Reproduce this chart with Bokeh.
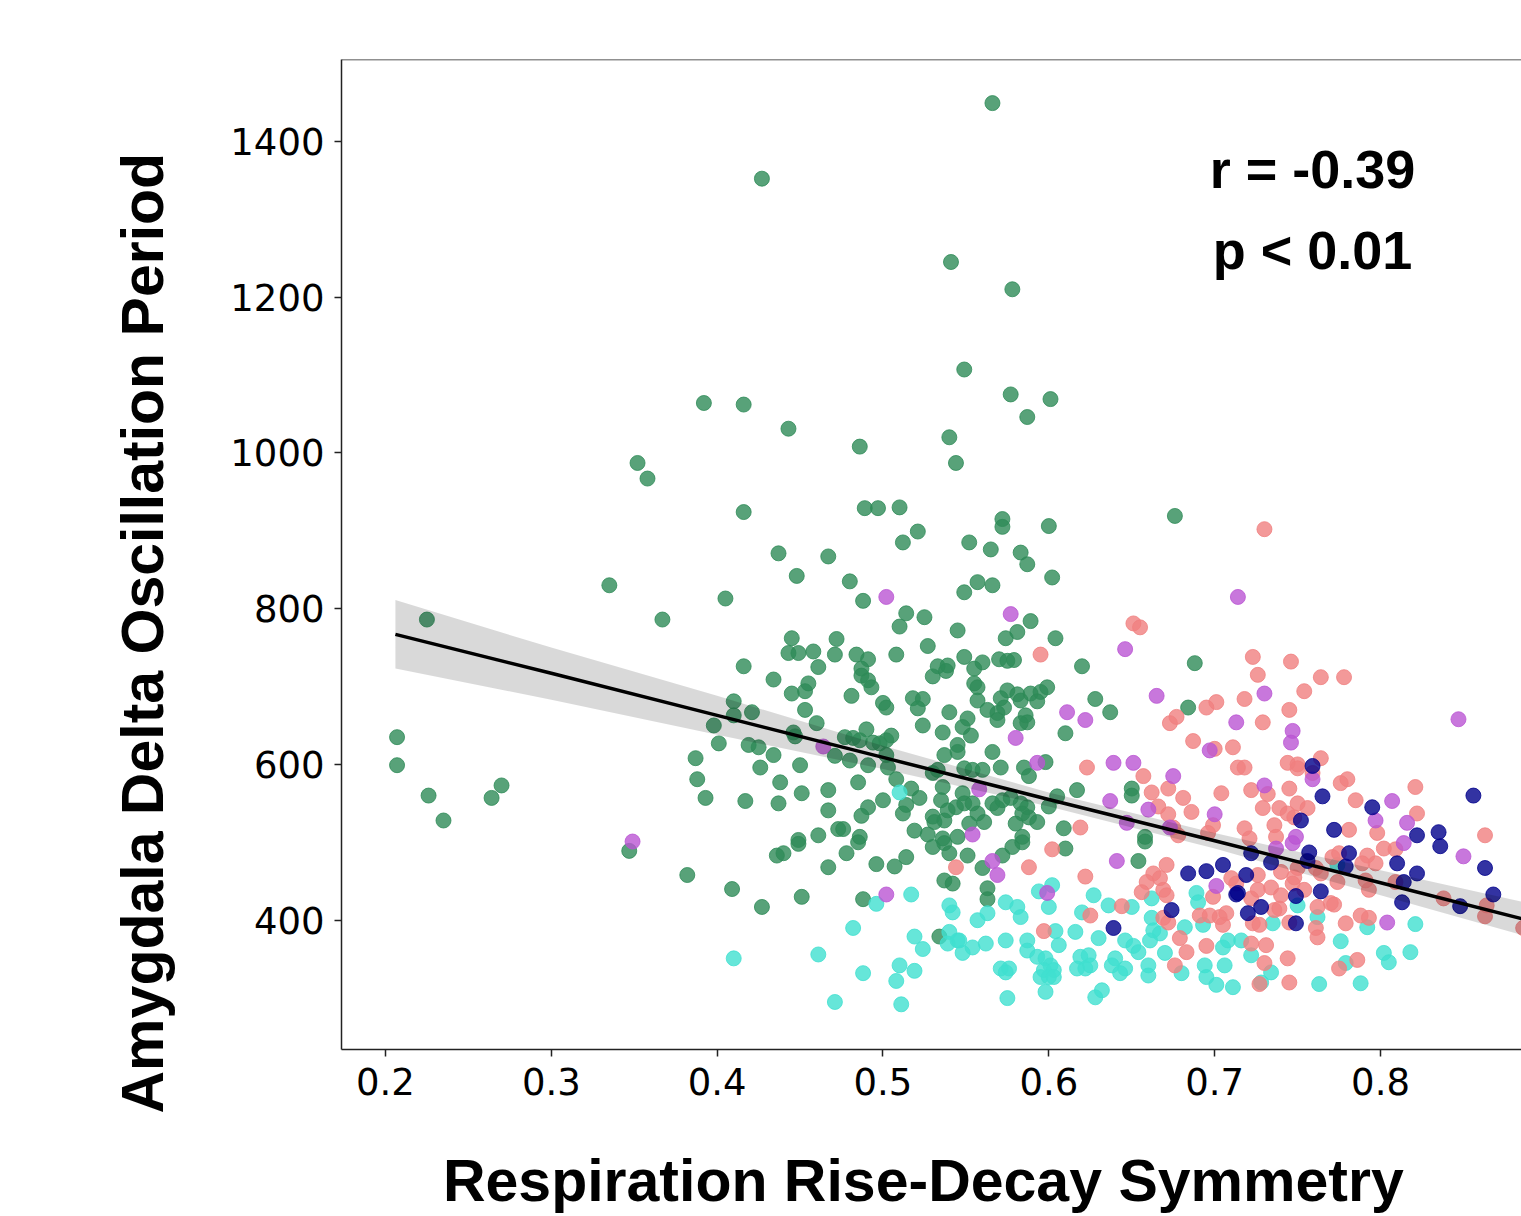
from bokeh.plotting import figure
from bokeh.models import Range1d, FixedTicker, Label, Span, ColumnDataSource, Title
from bokeh.embed import file_html
from bokeh.resources import INLINE

# ---------------- data ----------------
green = [
    (0.225, 786), (0.207, 635), (0.207, 599), (0.226, 560), (0.235, 528), (0.264, 557), (0.270, 573),
    (0.347, 489), (0.335, 830), (0.352, 987), (0.358, 967), (0.367, 786), (0.382, 458), (0.392, 1064),
    (0.405, 813), (0.416, 1062), (0.416, 924), (0.427, 1352), (0.443, 1031), (0.409, 440), (0.427, 417),
    (0.451, 430), (0.437, 871), (0.448, 842), (0.467, 867), (0.480, 835), (0.486, 1008), (0.488, 810),
    (0.489, 929), (0.497, 929), (0.510, 930), (0.512, 885), (0.521, 899), (0.541, 1245), (0.549, 1107),
    (0.540, 1020), (0.544, 987), (0.552, 885), (0.549, 821), (0.557, 834), (0.566, 830), (0.565, 876),
    (0.572, 915), (0.572, 905), (0.566, 1449), (0.578, 1210), (0.577, 1075), (0.587, 1046), (0.601, 1069),
    (0.583, 872), (0.587, 857), (0.600, 906), (0.602, 840), (0.676, 919), (0.688, 730), (0.684, 673),
    (0.514, 794), (0.510, 777), (0.525, 789), (0.527, 752), (0.545, 772), (0.445, 762), (0.443, 743),
    (0.449, 743), (0.458, 745), (0.472, 761), (0.471, 741), (0.484, 741), (0.491, 735), (0.508, 741),
    (0.416, 726), (0.461, 725), (0.487, 723), (0.533, 726), (0.539, 727),
    (0.589, 784), (0.581, 770), (0.574, 762), (0.604, 762), (0.549, 738), (0.560, 731), (0.570, 735),
    (0.575, 733), (0.579, 734), (0.555, 723), (0.620, 726),
    (0.434, 709), (0.445, 691), (0.453, 694), (0.455, 704), (0.481, 688), (0.487, 714), (0.491, 708),
    (0.493, 699), (0.500, 679), (0.502, 673), (0.518, 685), (0.524, 684), (0.521, 672), (0.530, 713),
    (0.538, 720), (0.453, 670), (0.540, 667), (0.410, 681), (0.410, 663), (0.421, 667), (0.398, 650),
    (0.524, 650), (0.536, 641), (0.446, 641), (0.447, 636), (0.460, 653), (0.401, 627), (0.419, 625),
    (0.425, 622), (0.477, 635), (0.482, 634), (0.486, 631), (0.490, 645), (0.494, 628), (0.498, 627),
    (0.502, 631), (0.505, 637), (0.434, 612), (0.471, 611), (0.480, 605), (0.491, 599), (0.503, 596),
    (0.502, 612), (0.387, 608), (0.426, 596), (0.450, 599), (0.545, 625), (0.545, 616), (0.537, 612),
    (0.530, 589), (0.533, 593), (0.388, 581), (0.438, 577), (0.485, 577), (0.508, 581), (0.536, 571),
    (0.393, 557), (0.417, 553), (0.437, 550), (0.451, 563), (0.467, 567), (0.517, 569), (0.522, 557),
    (0.500, 554), (0.514, 548), (0.512, 537), (0.535, 554), (0.539, 541), (0.544, 545), (0.491, 545),
    (0.487, 534), (0.467, 541), (0.473, 517), (0.476, 517), (0.486, 507), (0.461, 509), (0.449, 503),
    (0.530, 533), (0.531, 526), (0.537, 528), (0.519, 515), (0.527, 510), (0.536, 505), (0.545, 507),
    (0.436, 483), (0.440, 486), (0.449, 498), (0.467, 468), (0.478, 486), (0.485, 500), (0.496, 472),
    (0.507, 469), (0.514, 481), (0.530, 494), (0.537, 499), (0.540, 486), (0.488, 427), (0.537, 451),
    (0.542, 447), (0.534, 379),
    (0.555, 704), (0.557, 699), (0.575, 695), (0.581, 690), (0.589, 691), (0.595, 693), (0.599, 699),
    (0.571, 685), (0.573, 673), (0.569, 666), (0.557, 682), (0.563, 670), (0.569, 657), (0.583, 682),
    (0.593, 681), (0.586, 663), (0.587, 654), (0.583, 653), (0.551, 659), (0.553, 637), (0.548, 648),
    (0.628, 684), (0.637, 667), (0.610, 640), (0.571, 596), (0.560, 593), (0.554, 593), (0.549, 595),
    (0.566, 616), (0.585, 596), (0.588, 585), (0.598, 603), (0.650, 569), (0.650, 560), (0.617, 567),
    (0.605, 559), (0.600, 546), (0.593, 526), (0.609, 518), (0.658, 507), (0.584, 507), (0.548, 563),
    (0.549, 550), (0.554, 550), (0.557, 537), (0.552, 524), (0.561, 526), (0.566, 550), (0.572, 554),
    (0.569, 544), (0.577, 557), (0.583, 550), (0.587, 545), (0.584, 537), (0.580, 524), (0.588, 532),
    (0.551, 483), (0.560, 467), (0.563, 441), (0.563, 427), (0.572, 483), (0.578, 494), (0.584, 500),
    (0.610, 492), (0.654, 476), (0.658, 501),
]
cyan = [
    (0.510, 564), (0.496, 421), (0.517, 433), (0.482, 390), (0.461, 356), (0.410, 351), (0.519, 379),
    (0.524, 363), (0.510, 342), (0.519, 335), (0.488, 332), (0.508, 322), (0.471, 295), (0.511, 292),
    (0.540, 419), (0.542, 410), (0.540, 385), (0.539, 370), (0.545, 374),
    (0.594, 437), (0.602, 445), (0.600, 417), (0.574, 423), (0.581, 417), (0.583, 404), (0.563, 409),
    (0.557, 400), (0.546, 374), (0.554, 365), (0.562, 370), (0.548, 358), (0.574, 374), (0.587, 374),
    (0.587, 361), (0.604, 386), (0.606, 368), (0.593, 353), (0.598, 351), (0.601, 342), (0.597, 336),
    (0.603, 336), (0.595, 327), (0.600, 327), (0.603, 327), (0.571, 338), (0.576, 338), (0.574, 333),
    (0.598, 308), (0.575, 300), (0.616, 385), (0.620, 410), (0.627, 432), (0.636, 419), (0.650, 417),
    (0.630, 377), (0.619, 353), (0.624, 355), (0.622, 338), (0.617, 338), (0.625, 342), (0.628, 301),
    (0.632, 310), (0.640, 351), (0.638, 342), (0.646, 338), (0.643, 332), (0.646, 374), (0.651, 367),
    (0.654, 359), (0.662, 403), (0.663, 387), (0.667, 383), (0.661, 374), (0.670, 358), (0.660, 342),
    (0.660, 329), (0.682, 391), (0.680, 332), (0.662, 428), (0.689, 435), (0.690, 423), (0.693, 394),
    (0.694, 342), (0.695, 327), (0.701, 317), (0.705, 365), (0.708, 374), (0.706, 342), (0.711, 314),
    (0.821, 395), (0.818, 359), (0.802, 358), (0.805, 346), (0.788, 319), (0.763, 318), (0.776, 373),
    (0.779, 345), (0.734, 333), (0.728, 320), (0.762, 404), (0.750, 419), (0.792, 391), (0.735, 396),
    (0.716, 374), (0.722, 355), (0.774, 471),
]
salmon = [
    (0.651, 781), (0.655, 776), (0.730, 902), (0.723, 738), (0.746, 732), (0.595, 741),
    (0.673, 653), (0.677, 661), (0.695, 673), (0.701, 680), (0.687, 630), (0.711, 622), (0.714, 596),
    (0.623, 596), (0.657, 585), (0.662, 564), (0.672, 569), (0.681, 557), (0.666, 546), (0.686, 539),
    (0.672, 536), (0.704, 563), (0.699, 522), (0.696, 512), (0.619, 519), (0.675, 519), (0.678, 509),
    (0.700, 620), (0.544, 468),
    (0.602, 491), (0.588, 468), (0.622, 456), (0.671, 471), (0.663, 460), (0.667, 454), (0.659, 449),
    (0.656, 436), (0.669, 439), (0.671, 432), (0.644, 418), (0.625, 406), (0.597, 386), (0.669, 403),
    (0.672, 397), (0.679, 377), (0.683, 359), (0.676, 342), (0.695, 367), (0.699, 430), (0.691, 406),
    (0.697, 406), (0.703, 404), (0.707, 409), (0.705, 394), (0.710, 454), (0.713, 447),
    (0.745, 320), (0.727, 318), (0.744, 351), (0.730, 345), (0.731, 368), (0.722, 370), (0.786, 349),
    (0.775, 338), (0.779, 396), (0.788, 406), (0.793, 403), (0.761, 390), (0.762, 378), (0.745, 397),
    (0.770, 422), (0.772, 420), (0.762, 417), (0.736, 413), (0.739, 415), (0.723, 396), (0.727, 394),
    (0.722, 428), (0.726, 439), (0.734, 442), (0.740, 432), (0.747, 447), (0.754, 439), (0.726, 458),
    (0.740, 462), (0.748, 455), (0.750, 467), (0.761, 467), (0.764, 460), (0.774, 449), (0.771, 481),
    (0.775, 486), (0.792, 483), (0.797, 473), (0.789, 473), (0.793, 439), (0.791, 451), (0.809, 449),
    (0.802, 492), (0.809, 491), (0.838, 428), (0.864, 419), (0.863, 405), (0.886, 390),
    (0.726, 715), (0.764, 712), (0.778, 712), (0.754, 694), (0.718, 684), (0.745, 670), (0.729, 654),
    (0.718, 596), (0.744, 602), (0.750, 600), (0.750, 595), (0.764, 608), (0.759, 589), (0.776, 576),
    (0.780, 581), (0.745, 569), (0.722, 567), (0.732, 562), (0.785, 554), (0.821, 571), (0.822, 537),
    (0.729, 544), (0.739, 544), (0.744, 537), (0.750, 550), (0.756, 544), (0.748, 532), (0.736, 522),
    (0.718, 518), (0.781, 516), (0.798, 512), (0.863, 509), (0.721, 505), (0.737, 507),
]
purple = [
    (0.502, 815), (0.349, 501), (0.502, 433), (0.714, 815), (0.646, 748), (0.577, 793), (0.464, 623),
    (0.611, 667), (0.622, 657), (0.665, 688), (0.580, 634), (0.593, 602), (0.639, 602), (0.651, 602),
    (0.675, 585), (0.697, 618), (0.637, 553), (0.660, 542), (0.700, 536), (0.647, 525), (0.673, 519),
    (0.558, 568), (0.554, 510), (0.713, 654), (0.566, 476), (0.569, 458), (0.599, 435), (0.641, 476),
    (0.701, 444), (0.737, 492), (0.747, 499), (0.814, 499), (0.850, 482), (0.804, 397), (0.730, 691),
    (0.747, 643), (0.746, 628), (0.759, 581), (0.730, 573), (0.807, 553), (0.797, 528), (0.816, 525),
    (0.847, 658), (0.749, 507),
]
navy = [
    (0.684, 460), (0.695, 463), (0.705, 471), (0.713, 433), (0.674, 413), (0.639, 390), (0.722, 486),
    (0.734, 474), (0.719, 458), (0.714, 435), (0.720, 409), (0.728, 417), (0.749, 431), (0.764, 437),
    (0.749, 396), (0.757, 487), (0.756, 476), (0.781, 486), (0.779, 469), (0.810, 473), (0.822, 460),
    (0.814, 449), (0.813, 423), (0.836, 495), (0.848, 418), (0.863, 467), (0.868, 433), (0.759, 598),
    (0.765, 559), (0.752, 528), (0.772, 516), (0.795, 545), (0.856, 560), (0.835, 513), (0.822, 509),
]

# regression line and its confidence band
fit_x = [0.206, 0.30, 0.40, 0.50, 0.60, 0.70, 0.80, 0.885]
fit_y = [767, 717, 663, 609, 555, 502, 448, 402]
band_upper = [811, 750, 688, 624, 564, 512, 464, 424]
band_lower = [723, 683, 638, 594, 546, 492, 432, 381]

x_ticks = [0.2, 0.3, 0.4, 0.5, 0.6, 0.7, 0.8]
y_ticks = [400, 600, 800, 1000, 1200, 1400]

x_title = "Respiration Rise-Decay Symmetry"
y_title = "Amygdala Delta Oscillation Period"
stat_r = "r = -0.39"
stat_p = "p < 0.01"

groups = [
    (green, "#2e8b57"),
    (cyan, "#40e0d0"),
    (salmon, "#f08080"),
    (purple, "#ba55d3"),
    (navy, "#00008b"),
]

NBSP = "\u00a0"

# ---------------- figure ----------------
p = figure(width=1521, height=1216, output_backend="svg", toolbar_location=None,
           x_range=Range1d(0.1735, 0.885), y_range=Range1d(234, 1505),
           min_border_left=341, min_border_right=0, min_border_top=59, min_border_bottom=167)
p.outline_line_color = None
p.xgrid.visible = False
p.ygrid.visible = False
p.background_fill_color = "white"
p.border_fill_color = "white"

for pts, col in groups:
    src = ColumnDataSource(dict(x=[a for a, b in pts], y=[b for a, b in pts]))
    p.scatter("x", "y", source=src, size=15, fill_color=col, line_color=col,
              fill_alpha=0.8, line_alpha=0.8)

p.varea(x=fit_x, y1=band_lower, y2=band_upper, fill_color="black", fill_alpha=0.15)
p.line(fit_x, fit_y, line_color="black", line_width=3.5)

top = Span(location=1505, dimension="width", line_color="#222222", line_width=1.5)
p.add_layout(top)

for ax in (p.xaxis[0], p.yaxis[0]):
    ax.axis_line_color = "#222222"
    ax.axis_line_width = 1.5
    ax.major_tick_line_color = "#222222"
    ax.major_tick_line_width = 1.5
    ax.major_tick_in = 0
    ax.major_tick_out = 7
    ax.minor_tick_line_color = None
    ax.major_label_text_font = "DejaVu Sans"
    ax.major_label_text_font_size = "37px"
    ax.major_label_text_color = "black"

p.xaxis[0].ticker = FixedTicker(ticks=x_ticks)
p.yaxis[0].ticker = FixedTicker(ticks=y_ticks)
p.xaxis[0].major_label_standoff = 11
p.yaxis[0].major_label_standoff = 10

xa = p.xaxis[0]
xa.axis_label = x_title + NBSP
xa.axis_label_text_font = "Liberation Sans"
xa.axis_label_text_font_style = "bold"
xa.axis_label_text_font_size = "59px"
xa.axis_label_text_color = "black"
xa.axis_label_standoff = 50

# y title as a side title, shifted down like the reference
ytitle = Title(text=y_title, align="left", offset=-64, standoff=103,
               text_font="Liberation Sans", text_font_style="bold",
               text_font_size="59px", text_color="black")
p.add_layout(ytitle, "left")

p.add_layout(Label(x=0.759, y=1365, text=stat_r, text_align="center",
                   text_baseline="alphabetic", text_font="Liberation Sans",
                   text_font_style="bold", text_font_size="54px", text_color="black"))
p.add_layout(Label(x=0.759, y=1260, text=stat_p, text_align="center",
                   text_baseline="alphabetic", text_font="Liberation Sans",
                   text_font_style="bold", text_font_size="54px", text_color="black"))

open("out.html", "w").write(file_html(p, INLINE))
